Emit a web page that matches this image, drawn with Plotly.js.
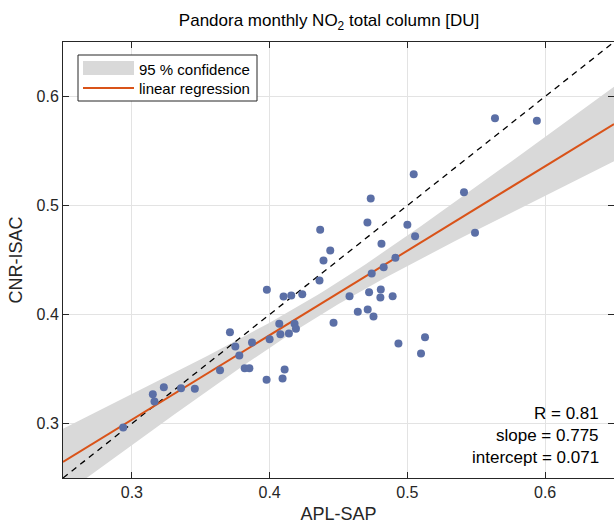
<!DOCTYPE html>
<html>
<head>
<meta charset="utf-8">
<script src="https://cdn.plot.ly/plotly-3.0.1.min.js"></script>
<style>html,body{margin:0;padding:0;background:#fff;}</style>
</head>
<body>
<div id="chart" style="width:614px;height:529px;"></div>
<script>
// Monthly NO2 total column [DU]
const apl_sap = [0.5636,0.5940,0.5046,0.4734,0.5411,0.4710,0.5000,0.5056,0.4812,0.5491,
  0.4367,0.4913,0.4741,0.4828,0.4580,0.4722,0.4807,0.4804,0.4893,0.4640,
  0.4712,0.4754,0.4935,0.5128,0.5099,0.4440,0.4391,0.4362,0.3980,0.4101,
  0.4157,0.4237,0.4070,0.4181,0.4191,0.4078,0.4140,0.4000,0.4464,0.3712,
  0.3751,0.3872,0.3780,0.3640,0.3819,0.3853,0.4109,0.4094,0.3978,0.3152,
  0.3232,0.3164,0.3357,0.3457,0.2937];
const cnr_isac = [0.5801,0.5777,0.5287,0.5064,0.5122,0.4844,0.4823,0.4718,0.4649,0.4750,
  0.4777,0.4520,0.4376,0.4434,0.4168,0.4205,0.4229,0.4156,0.4168,0.4025,
  0.4046,0.3982,0.3734,0.3792,0.3642,0.4587,0.4495,0.4312,0.4227,0.4165,
  0.4174,0.4186,0.3915,0.3915,0.3869,0.3819,0.3826,0.3773,0.3924,0.3838,
  0.3706,0.3743,0.3624,0.3489,0.3507,0.3507,0.3495,0.3413,0.3401,0.3269,
  0.3333,0.3202,0.3324,0.3318,0.2963];
const R = 0.81, slope = 0.775, intercept = 0.071;
const axisRange = [0.25, 0.65];
const tickVals = [0.3, 0.4, 0.5, 0.6];
const tickText = ['0.3', '0.4', '0.5', '0.6'];
const legendLabels = ['95 % confidence', 'linear regression'];
const statsLabels = ['R = 0.81', 'slope = 0.775', 'intercept = 0.071'];

// 95% confidence band of the regression line (from the data residuals)
const n = apl_sap.length;
const xm = apl_sap.reduce((a,b)=>a+b,0)/n;
const sxx = apl_sap.reduce((a,x)=>a+(x-xm)*(x-xm),0);
const sse = apl_sap.reduce((a,x,i)=>{const r = cnr_isac[i]-(slope*x+intercept); return a+r*r;},0);
const s = Math.sqrt(sse/(n-2));
const tcrit = 2.006;
const bx = [], up = [], lo = [];
for (let i=0;i<=80;i++){
  const x = axisRange[0] + (axisRange[1]-axisRange[0])*i/80;
  const yh = slope*x+intercept;
  const hw = tcrit*s*Math.sqrt(1/n + (x-xm)*(x-xm)/sxx);
  bx.push(x); up.push(yh+hw); lo.push(yh-hw);
}
const bandX = bx.concat(bx.slice().reverse());
const bandY = up.concat(lo.slice().reverse());

const FONT = 'Liberation Sans, Arial, Helvetica, sans-serif';
const BAND = '#d9d9d9', REG = '#d95319';
const traces = [
  {x: bandX, y: bandY, type:'scatter', mode:'lines', fill:'toself', fillcolor:BAND,
   line:{width:0, color:BAND}, name:legendLabels[0], hoverinfo:'skip', showlegend:false},
  {x: axisRange, y: axisRange, type:'scatter', mode:'lines',
   line:{color:'#000', width:1.3, dash:'6px,5px'}, showlegend:false},
  {x: axisRange, y: axisRange.map(x=>slope*x+intercept), type:'scatter', mode:'lines',
   line:{color:REG, width:2}, name:legendLabels[1], showlegend:false},
  {x: apl_sap, y: cnr_isac, type:'scatter', mode:'markers',
   marker:{color:'#5b6fa6', size:8}, showlegend:false}
];

const axisCommon = {
  range: axisRange, tickvals: tickVals, ticktext: tickText,
  showgrid:true, gridcolor:'#e3e3e3', gridwidth:1,
  zeroline:false, showline:true, linecolor:'#262626', linewidth:1,
  ticks:'inside', ticklen:6, tickcolor:'#262626', mirror:'allticks',
  tickfont:{family:FONT, size:16, color:'#262626'}
};

// pixel helpers for the legend box (plot area: x 63..614, y 42..478)
const PX = p => (p-63)/551, PY = p => (478-p)/436;

const layout = {
  width:614, height:529,
  margin:{l:63, r:0, t:42, b:51},
  paper_bgcolor:'#fff', plot_bgcolor:'#fff',
  font:{family:FONT, color:'#262626'},
  title:{text:'Pandora monthly NO<sub>2</sub> total column [DU]', font:{family:FONT, size:17, color:'#000'},
         x:0.536, xanchor:'center', y:0.962, yanchor:'middle', yref:'container'},
  xaxis: Object.assign({}, axisCommon, {title:{text:'APL-SAP', font:{family:FONT, size:18, color:'#262626'}, standoff:7}}),
  yaxis: Object.assign({}, axisCommon, {title:{text:'CNR-ISAC', font:{family:FONT, size:18, color:'#262626'}, standoff:9}}),
  showlegend:false,
  shapes:[
    {type:'rect', xref:'paper', yref:'paper', x0:PX(78), x1:PX(257), y0:PY(101), y1:PY(55),
     fillcolor:'#fff', line:{color:'#262626', width:1}, layer:'above'},
    {type:'rect', xref:'paper', yref:'paper', x0:PX(83), x1:PX(134), y0:PY(75), y1:PY(61),
     fillcolor:BAND, line:{width:0}, layer:'above'},
    {type:'line', xref:'paper', yref:'paper', x0:PX(83), x1:PX(134), y0:PY(88), y1:PY(88),
     line:{color:REG, width:2}, layer:'above'}
  ],
  annotations:[
    {text:legendLabels[0], xref:'paper', yref:'paper', x:PX(137), y:PY(69), xanchor:'left', yanchor:'middle', showarrow:false, font:{family:FONT, size:15, color:'#000'}},
    {text:legendLabels[1], xref:'paper', yref:'paper', x:PX(137), y:PY(89), xanchor:'left', yanchor:'middle', showarrow:false, font:{family:FONT, size:15, color:'#000'}},
    {text:statsLabels[0], xref:'paper', yref:'paper', x:PX(601), y:PY(413), xanchor:'right', yanchor:'middle', showarrow:false, font:{family:FONT, size:17, color:'#000'}},
    {text:statsLabels[1], xref:'paper', yref:'paper', x:PX(601), y:PY(435), xanchor:'right', yanchor:'middle', showarrow:false, font:{family:FONT, size:17, color:'#000'}},
    {text:statsLabels[2], xref:'paper', yref:'paper', x:PX(601), y:PY(457), xanchor:'right', yanchor:'middle', showarrow:false, font:{family:FONT, size:17, color:'#000'}}
  ]
};

Plotly.newPlot('chart', traces, layout, {displayModeBar:false, staticPlot:true});
</script>
</body>
</html>
